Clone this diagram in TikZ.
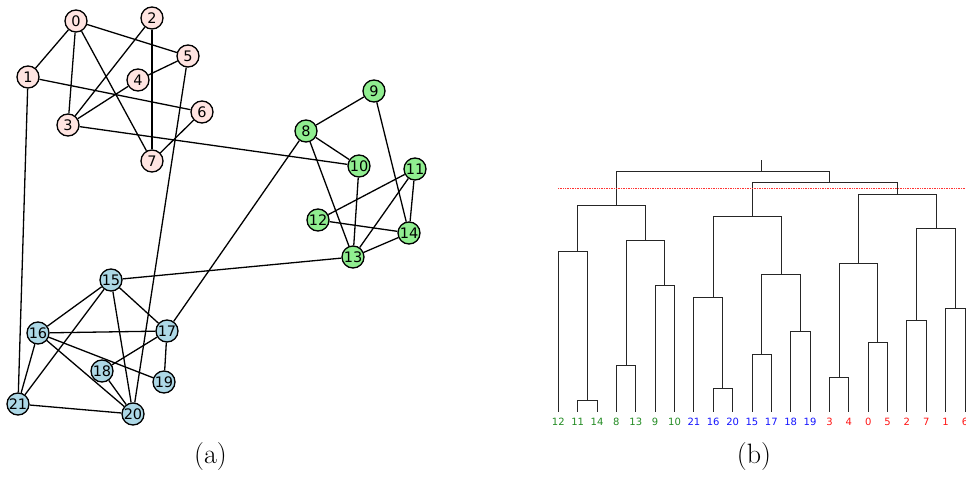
\documentclass[tikz,border=0pt]{standalone}
\usepackage{fontspec}
\newfontfamily\dejavu{DejaVu Sans}
\usepackage{tikz}
\usetikzlibrary{positioning, calc}

\definecolor{rosa}{RGB}{255,228,225}
\definecolor{hellgruen}{RGB}{144,238,144}
\definecolor{hellblau}{RGB}{173,216,230}
\definecolor{gruen}{RGB}{34,139,34}
\definecolor{blau}{RGB}{20,20,255}
\definecolor{rot}{RGB}{255,20,20}

\tikzset{
  knoten/.style={circle, draw=black, line width=1.3pt, minimum size=22pt, inner sep=0pt,
    font=\dejavu\fontsize{14.5}{14.5}\selectfont},
  kante/.style={line width=1.3pt},
  baum/.style={line width=0.9pt, black!85},
  blatt/.style={font=\dejavu\fontsize{10}{10}\selectfont, inner sep=0pt},
  titel/.style={font=\fontsize{28}{34}\selectfont, inner sep=0pt}
}

\begin{document}
\begin{tikzpicture}[x=1pt, y=-1pt]
  \useasboundingbox (0,0) rectangle (966,481);

  % Knoten des Graphen
  \foreach \n/\x/\y/\c in {0/76/21/rosa, 1/28/77/rosa, 2/152/18/rosa, 3/68/125/rosa,
      4/138/80/rosa, 5/188/56/rosa, 6/202/112/rosa, 7/152/161/rosa,
      8/306/131/hellgruen, 9/374/91/hellgruen, 10/359/166/hellgruen, 11/415/169/hellgruen,
      12/318/220/hellgruen, 13/353/257/hellgruen, 14/409/233/hellgruen,
      15/111/280/hellblau, 16/38/333/hellblau, 17/167/331/hellblau, 18/102/371/hellblau,
      19/164/382/hellblau, 20/133/414/hellblau, 21/18/404/hellblau}
    \node[knoten, fill=\c] (n\n) at (\x,\y) {\n};

  % Kanten
  \foreach \a/\b in {0/1, 0/3, 0/7, 0/5, 2/3, 2/7, 5/4, 5/20, 4/3, 1/6, 1/21, 6/7, 3/10,
      8/9, 8/10, 8/13, 8/17, 9/14, 10/13, 11/12, 11/13, 11/14, 12/14, 13/14, 13/15,
      15/16, 15/21, 15/17, 15/20, 16/17, 16/21, 16/19, 16/20, 17/18, 17/19, 18/20, 21/20}
    \draw[kante] (n\a) -- (n\b);

  % Blaetter des Dendrogramms
  \foreach \b/\c [count=\k from 0] in {12/gruen, 11/gruen, 14/gruen, 8/gruen, 13/gruen,
      9/gruen, 10/gruen, 21/blau, 16/blau, 20/blau, 15/blau, 17/blau, 18/blau, 19/blau,
      3/rot, 4/rot, 0/rot, 5/rot, 2/rot, 7/rot, 1/rot, 6/rot}
    \node[blatt, text=\c] (b\b) at ({558.3+19.367*\k},422) {\b};

  % Verbindungen: links unten, rechts unten, Hoehe
  \foreach \xl/\yl/\xr/\yr/\h in {577.7/411.7/597.0/411.7/400, 558.3/411.7/587.35/400/251.7,
      616.4/411.7/635.8/411.7/365.7, 655.1/411.7/674.5/411.7/285.7,
      626.1/365.7/664.8/285.7/240, 577.7/251.7/645.45/240/205.7,
      713.2/411.7/732.6/411.7/388.7, 693.9/411.7/722.9/388.7/297,
      752.0/411.7/771.3/411.7/354.3, 790.7/411.7/810.1/411.7/331.7,
      761.65/354.3/800.4/331.7/274.3, 713.2/297/781.0/274.3/216.7,
      829.4/411.7/848.8/411.7/377.3, 868.2/411.7/887.5/411.7/342.7,
      839.1/377.3/877.85/342.7/263, 906.9/411.7/926.3/411.7/320,
      945.6/411.7/965.0/411.7/308.7, 916.6/320/955.3/308.7/228.7,
      858.5/263/935.95/228.7/194, 752.0/216.7/897.2/194/182.7,
      616.4/205.7/829.5/182.7/171.7}
    \draw[baum] (\xl,\yl) |- (\xr,\h) -- (\xr,\yr);
  \draw[baum] (761.65,171.7) -- (761.65,160);

  % Schnittlinie
  \draw[red!80, densely dotted, line width=0.7pt] (558,188.5) -- (966,188.5);

  % Beschriftungen
  \node[titel] (capa) at (210.5,456.5) {(a)};
  \node[titel] (capb) at (754,456.5) {(b)};
\end{tikzpicture}
\end{document}
